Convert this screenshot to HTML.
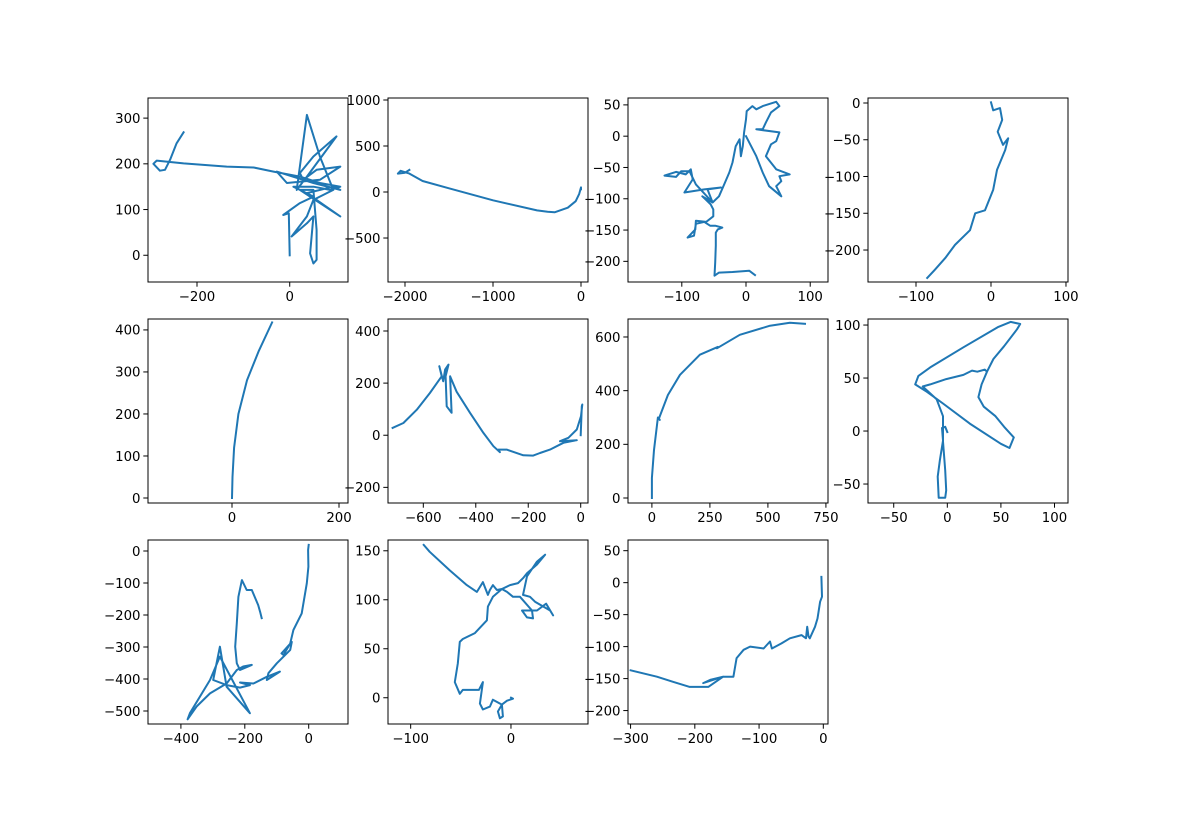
<!DOCTYPE html>
<html><head><meta charset="utf-8"><style>
html,body{margin:0;padding:0;background:#fff}
svg{display:block}
text{font-family:"DejaVu Sans","Liberation Sans",sans-serif;font-size:13.3px;fill:#000}
</style></head><body>
<svg id="fig" width="1186" height="814" viewBox="0 0 1186 814" xmlns="http://www.w3.org/2000/svg"></svg>
<script>
// Panel data (x, y) pairs in data units
const p1x=[0,-2,-14,22,51,22,109,58,37,94,109,51,-28,-6,65,109,58,29,22,51,101,37,15,37,65,94,51,37,4,37,51,44,51,58,58,51,22,8,51,87,109,65,22,-35,-78,-136,-229,-287,-294,-280,-269,-258,-244,-229];
const p1y=[0,92,88,114,128,143,85,121,136,150,143,158,183,158,165,194,187,165,180,216,260,172,143,307,216,143,121,85,41,70,85,4,-18,-10,55,143,143,150,150,143,150,158,172,183,192,194,201,207,200,185,187,209,245,269];
const p2x=[0,0,-20,-60,-150,-300,-380,-500,-1000,-1500,-1800,-1950,-2050,-2080,-2000,-1950];
const p2y=[30,50,-20,-100,-170,-220,-215,-200,-90,40,120,200,230,200,210,240];
const p3x=[14,5,-21,-42,-49,-48,-47,-47,-44,-37,-48,-56,-65,-78,-81,-91,-79,-78,-62,-51,-51,-55,-63,-68,-52,-60,-39,-65,-96,-83,-86,-94,-109,-127,-109,-101,-88,-78,-52,-42,-34,-26,-21,-16,-10,-8,-5,-3,0,1,10,16,26,47,52,39,31,26,16,52,47,39,31,47,68,52,55,47,55,36,26,16,0];
const p3y=[-222,-215,-217,-218,-223,-202,-175,-154,-149,-146,-143,-143,-137,-140,-159,-162,-149,-135,-137,-128,-117,-109,-101,-96,-106,-85,-82,-85,-90,-69,-53,-61,-57,-63,-65,-56,-56,-77,-106,-96,-77,-58,-42,-16,-5,-32,-16,6,27,40,48,43,48,55,48,38,22,11,11,6,-8,-13,-32,-53,-61,-64,-72,-80,-96,-80,-58,-32,0];
const p4x=[0,3,12,15,9,16,23,19,8,3,-8,-21,-28,-48,-61,-75,-85];
const p4y=[1,-10,-7,-23,-39,-57,-48,-64,-91,-118,-146,-150,-173,-193,-211,-227,-238];
const p5x=[0,1,4,12,28,50,75];
const p5y=[0,50,120,200,280,350,418];
const p6x=[0,4,6,1,-15,-47,-79,-15,-66,-117,-155,-181,-219,-282,-314,-308,-333,-371,-422,-473,-498,-492,-511,-515,-504,-517,-524,-539,-530,-575,-625,-676,-717];
const p6y=[0,111,118,73,22,-10,-23,-19,-29,-55,-68,-78,-77,-55,-55,-65,-42,9,86,167,226,86,111,226,271,252,207,265,226,162,98,47,28];
const p7x=[0,0,9,22,26,34,30,69,121,207,284,280,379,509,595,660];
const p7y=[0,75,179,272,300,291,296,384,459,534,563,558,608,642,653,649];
const p8x=[0,-2,-5,-4,-7,-9,-8,-2,-1,-2,-4,-4,-10,-23,-16,-1,15,23,28,35,37,32,29,34,45,53,62,58,50,21,-4,-19,-30,-27,-16,15,47,59,68,65,53,43,37];
const p8y=[-1,4,3,-9,-28,-43,-63,-63,-56,-37,-10,14,30,42,44,49,53,57,56,58,56,44,32,23,14,4,-6,-16,-12,7,26,37,44,52,60,79,98,103,101,96,80,68,56];
const p9x=[0,-2,-1,-6,-22,-48,-58,-79,-85,-53,-58,-100,-126,-131,-90,-131,-173,-215,-184,-215,-257,-299,-278,-257,-184,-278,-309,-372,-379,-351,-309,-257,-225,-205,-178,-215,-225,-230,-225,-220,-209,-194,-178,-158,-152,-147];
const p9y=[19,3,-49,-101,-195,-247,-289,-325,-320,-284,-309,-351,-382,-403,-377,-393,-414,-411,-419,-427,-419,-403,-299,-424,-507,-330,-403,-507,-526,-486,-445,-414,-372,-361,-356,-372,-351,-299,-226,-143,-91,-122,-122,-169,-190,-210];
const p10x=[0,2,-4,-9,-8,-11,-13,-9,-18,-21,-28,-31,-28,-32,-48,-51,-56,-53,-51,-48,-36,-24,-23,-18,-9,-1,7,12,16,26,34,26,16,12,19,24,39,42,35,26,11,16,22,21,9,2,-4,-9,-14,-18,-21,-23,-28,-34,-44,-61,-81,-87];
const p10y=[0,-1,-3,-7,-19,-21,-14,-7,-2,-9,-12,-6,16,8,8,4,16,35,57,60,66,79,93,103,111,115,117,122,127,136,146,139,124,105,103,98,89,84,96,89,89,82,81,89,103,103,108,111,110,115,110,105,118,108,115,130,149,156];
const p11x=[-3,-2,-5,-9,-13,-21,-23,-25,-27,-34,-52,-65,-80,-83,-93,-114,-124,-135,-140,-156,-176,-187,-156,-179,-208,-234,-259,-300];
const p11y=[9,-22,-30,-56,-69,-87,-84,-69,-87,-82,-87,-95,-103,-92,-103,-100,-105,-118,-147,-147,-152,-157,-147,-163,-163,-155,-147,-137];
// Tick labels
const t1x=[-200,0], t1y=[0,100,200,300];
const t2x=[-2000,-1000,0], t2y=[-500,0,500,1000];
const t3x=[-100,0,100], t3y=[-200,-150,-100,-50,0,50];
const t4x=[-100,0,100], t4y=[-200,-150,-100,-50,0];
const t5x=[0,200], t5y=[0,100,200,300,400];
const t6x=[-600,-400,-200,0], t6y=[-200,0,200,400];
const t7x=[0,250,500,750], t7y=[0,200,400,600];
const t8x=[-50,0,50,100], t8y=[-50,0,50,100];
const t9x=[-400,-200,0], t9y=[-500,-400,-300,-200,-100,0];
const t10x=[-100,0], t10y=[0,50,100,150];
const t11x=[-300,-200,-100,0], t11y=[-200,-150,-100,-50,0,50];
// Axis limits
const lim1=[-305.7,125.7,-58.5,344], lim2=[-2193,79.5,-978,1021.7], lim3=[-183.8,127.7,-233,61], lim4=[-164,102.7,-243.5,6.8];
const lim5=[-157,216.8,-11.9,426], lim6=[-734.6,27.8,-260,446], lim7=[-103,759,-18.6,667], lim8=[-74,112.6,-67.9,105.7];
const lim9=[-503,123,-540.6,34.4], lim10=[-122.6,76.8,-26.8,161], lim11=[-304,7.3,-221,66.7];

const NS='http://www.w3.org/2000/svg';
const fig=document.getElementById('fig');
function mk(tag,attrs,parent){const e=document.createElementNS(NS,tag);for(const k in attrs)e.setAttribute(k,attrs[k]);(parent||fig).appendChild(e);return e;}
const panels=[
 [p1x,p1y,t1x,t1y,lim1,148,98],[p2x,p2y,t2x,t2y,lim2,388,98],[p3x,p3y,t3x,t3y,lim3,628,98],[p4x,p4y,t4x,t4y,lim4,868,98],
 [p5x,p5y,t5x,t5y,lim5,148,319],[p6x,p6y,t6x,t6y,lim6,388,319],[p7x,p7y,t7x,t7y,lim7,628,319],[p8x,p8y,t8x,t8y,lim8,868,319],
 [p9x,p9y,t9x,t9y,lim9,148,540],[p10x,p10y,t10x,t10y,lim10,388,540],[p11x,p11y,t11x,t11y,lim11,628,540]];
const W=200,H=184;
panels.forEach((p,i)=>{
 const [xs,ys,tx,ty,lim,L,T]=p;
 const g=mk('g',{});
 
 
 const sx=v=>L+(v-lim[0])/(lim[1]-lim[0])*W;
 const sy=v=>T+H-(v-lim[2])/(lim[3]-lim[2])*H;
 const cp=mk('clipPath',{id:'c'+i},g);
 mk('rect',{x:L,y:T,width:W,height:H},cp);
 let d='';
 xs.forEach((v,k)=>{d+=(k?'L':'M')+sx(v).toFixed(1)+' '+sy(ys[k]).toFixed(1);});
 const path=mk('path',{d:d,fill:'none',stroke:'#1f77b4','stroke-width':2,'stroke-linejoin':'round','stroke-linecap':'square','clip-path':'url(#c'+i+')'},g);
 
 
 const fr=mk('rect',{x:L,y:T,width:W,height:H,fill:'none',stroke:'#000','stroke-width':1},g);
 
 
 tx.forEach(v=>{
  const x=sx(v);
  mk('line',{x1:x,y1:T+H,x2:x,y2:T+H+4.7,stroke:'#000','stroke-width':1},g);
  const t=mk('text',{x:x,y:T+H+19,'text-anchor':'middle'},g);
  
  
  t.textContent=(v<0?'\u2212'+(-v):''+v);
 });
 ty.forEach(v=>{
  const y=sy(v);
  mk('line',{x1:L,y1:y,x2:L-4.7,y2:y,stroke:'#000','stroke-width':1},g);
  const t=mk('text',{x:L-7.5,y:y+4.8,'text-anchor':'end'},g);
  
  
  t.textContent=(v<0?'\u2212'+(-v):''+v);
 });
});
</script>
</body></html>
